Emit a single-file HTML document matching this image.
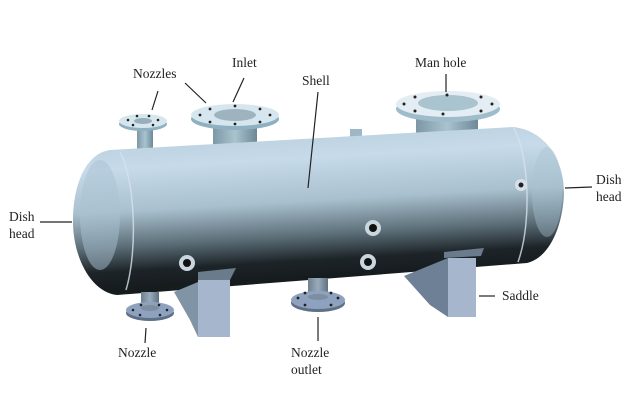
<!DOCTYPE html>
<html><head><style>
html,body{margin:0;padding:0;background:#fff;}
svg{display:block;}
text{font-family:"Liberation Serif",serif;font-size:13.5px;fill:#222;}
</style></head><body>
<svg width="633" height="400" viewBox="0 0 633 400" xmlns="http://www.w3.org/2000/svg">
<defs>
<linearGradient id="shell" gradientUnits="userSpaceOnUse" x1="0" y1="125" x2="10" y2="295">
<stop offset="0" stop-color="#b4cad8"/>
<stop offset="0.3" stop-color="#c6daea"/>
<stop offset="0.55" stop-color="#a9c0ce"/>
<stop offset="0.75" stop-color="#5d707a"/>
<stop offset="0.9" stop-color="#1d2428"/>
<stop offset="1" stop-color="#161b1e"/>
</linearGradient>
<linearGradient id="pipe" x1="0" y1="0" x2="1" y2="0">
<stop offset="0" stop-color="#7c97a5"/><stop offset="0.5" stop-color="#a9c3cf"/><stop offset="1" stop-color="#6d8897"/>
</linearGradient>
<linearGradient id="dpipe" x1="0" y1="0" x2="1" y2="0">
<stop offset="0" stop-color="#6e7f90"/><stop offset="0.5" stop-color="#9aacbc"/><stop offset="1" stop-color="#5f7080"/>
</linearGradient>
</defs>

<rect x="137" y="122" width="16" height="32" fill="url(#pipe)"/>
<rect x="213" y="116" width="44" height="34" fill="url(#pipe)"/>
<rect x="416" y="106" width="62" height="36" fill="url(#pipe)"/>
<rect x="350" y="129" width="12" height="10" fill="#9fb6c4"/>

<path d="M110,150 L513,127 C545,130 565,160 564,195 C562,230 548,258 527,263 L117,295 C90,292 72,255 73,218 C74,180 88,153 110,150 Z" fill="url(#shell)"/>
<path d="M120,152 C135,180 138,250 126,290" stroke="#d5e2ec" stroke-width="1.5" fill="none" opacity="0.8"/>
<path d="M513,127 C528,150 533,220 518,262" stroke="#d5e2ec" stroke-width="1.5" fill="none" opacity="0.8"/>
<ellipse cx="100" cy="215" rx="20" ry="55" fill="#a9c2d2" opacity="0.5"/>
<ellipse cx="547" cy="192" rx="15" ry="45" fill="#a9c2d2" opacity="0.4"/>

<circle cx="373" cy="228" r="8" fill="#c9d6de"/><circle cx="373" cy="228" r="4" fill="#111"/>
<circle cx="368" cy="262" r="8" fill="#c9d6de"/><circle cx="368" cy="262" r="4" fill="#111"/>
<circle cx="187" cy="263" r="8" fill="#c9d6de"/><circle cx="187" cy="263" r="4" fill="#111"/>
<circle cx="521" cy="185" r="6" fill="#d5e0e8"/><circle cx="521" cy="185" r="2.5" fill="#222"/>

<ellipse cx="143" cy="124" rx="24" ry="7" fill="#8fb0c0"/>
<ellipse cx="143" cy="121" rx="24" ry="7" fill="#d6e6ee"/>
<ellipse cx="143" cy="121" rx="9" ry="3" fill="#98aebb"/>
<g fill="#222"><circle cx="128" cy="120" r="1.3"/><circle cx="158" cy="120" r="1.3"/><circle cx="133" cy="125" r="1.3"/><circle cx="153" cy="125" r="1.3"/><circle cx="137" cy="116" r="1.3"/><circle cx="149" cy="116" r="1.3"/></g>

<ellipse cx="235" cy="119" rx="44" ry="11" fill="#8fb0c0"/>
<ellipse cx="235" cy="115" rx="44" ry="11" fill="#d6e6ee"/>
<ellipse cx="235" cy="115" rx="21" ry="6" fill="#9fb3be"/>
<g fill="#222"><circle cx="200" cy="115" r="1.4"/><circle cx="270" cy="115" r="1.4"/><circle cx="210" cy="109" r="1.4"/><circle cx="260" cy="109" r="1.4"/><circle cx="210" cy="122" r="1.4"/><circle cx="260" cy="122" r="1.4"/><circle cx="235" cy="106" r="1.4"/><circle cx="235" cy="124" r="1.4"/></g>

<ellipse cx="448" cy="109" rx="52" ry="13" fill="#9fbccb"/>
<ellipse cx="448" cy="104" rx="52" ry="13" fill="#e3edf3"/>
<ellipse cx="448" cy="103" rx="30" ry="8" fill="#a9c3cf"/>
<g fill="#222"><circle cx="404" cy="104" r="1.5"/><circle cx="492" cy="104" r="1.5"/><circle cx="415" cy="97" r="1.5"/><circle cx="481" cy="97" r="1.5"/><circle cx="415" cy="111" r="1.5"/><circle cx="481" cy="111" r="1.5"/><circle cx="447" cy="95" r="1.5"/><circle cx="443" cy="114" r="1.5"/></g>

<polygon points="198,272 236,268 230,280 198,282" fill="#6a7b8c"/>
<polygon points="174,292 198,282 198,337 190,320" fill="#8094a6"/>
<rect x="198" y="280" width="32" height="57" fill="#a6b6cc"/>
<polygon points="444,252 484,248 481,256 444,258" fill="#6a7b8c"/>
<polygon points="404,276 448,258 448,317 430,305" fill="#6d8095"/>
<rect x="448" y="258" width="28" height="59" fill="#a6b6cc"/>

<rect x="141" y="292" width="18" height="16" fill="url(#dpipe)"/>
<ellipse cx="150" cy="313" rx="24" ry="8" fill="#5e7088"/>
<ellipse cx="150" cy="310" rx="24" ry="8" fill="#8ea2bf"/>
<ellipse cx="150" cy="308" rx="9" ry="3" fill="#7d8ea0"/>
<g fill="#222"><circle cx="133" cy="310" r="1.3"/><circle cx="167" cy="310" r="1.3"/><circle cx="140" cy="315" r="1.3"/><circle cx="160" cy="315" r="1.3"/><circle cx="141" cy="305" r="1.3"/><circle cx="159" cy="305" r="1.3"/></g>

<rect x="308" y="278" width="20" height="20" fill="url(#dpipe)"/>
<ellipse cx="318" cy="303" rx="27" ry="9" fill="#5e7088"/>
<ellipse cx="318" cy="300" rx="27" ry="9" fill="#8ea2bf"/>
<ellipse cx="318" cy="297" rx="10" ry="3" fill="#7d8ea0"/>
<g fill="#222"><circle cx="298" cy="298" r="1.4"/><circle cx="338" cy="298" r="1.4"/><circle cx="305" cy="305" r="1.4"/><circle cx="331" cy="305" r="1.4"/><circle cx="305" cy="293" r="1.4"/><circle cx="331" cy="293" r="1.4"/></g>

<g stroke="#222" stroke-width="1.2" fill="none">
<line x1="158" y1="91" x2="152" y2="110"/>
<line x1="185" y1="83" x2="206" y2="103"/>
<line x1="244" y1="78" x2="233" y2="102"/>
<line x1="318" y1="92" x2="308" y2="188"/>
<line x1="446" y1="74" x2="446" y2="92"/>
<line x1="40" y1="222" x2="72" y2="222"/>
<line x1="565" y1="188" x2="592" y2="187"/>
<line x1="479" y1="296" x2="495" y2="296"/>
<line x1="146" y1="328" x2="145" y2="343"/>
<line x1="318" y1="317" x2="318" y2="341"/>
</g>

<text x="133" y="78">Nozzles</text>
<text x="232" y="67">Inlet</text>
<text x="302" y="85">Shell</text>
<text x="415" y="67">Man hole</text>
<text x="9" y="221">Dish</text>
<text x="9" y="238">head</text>
<text x="596" y="184">Dish</text>
<text x="596" y="201">head</text>
<text x="502" y="300">Saddle</text>
<text x="118" y="357">Nozzle</text>
<text x="291" y="357">Nozzle</text>
<text x="291" y="374">outlet</text>
</svg>
</body></html>
